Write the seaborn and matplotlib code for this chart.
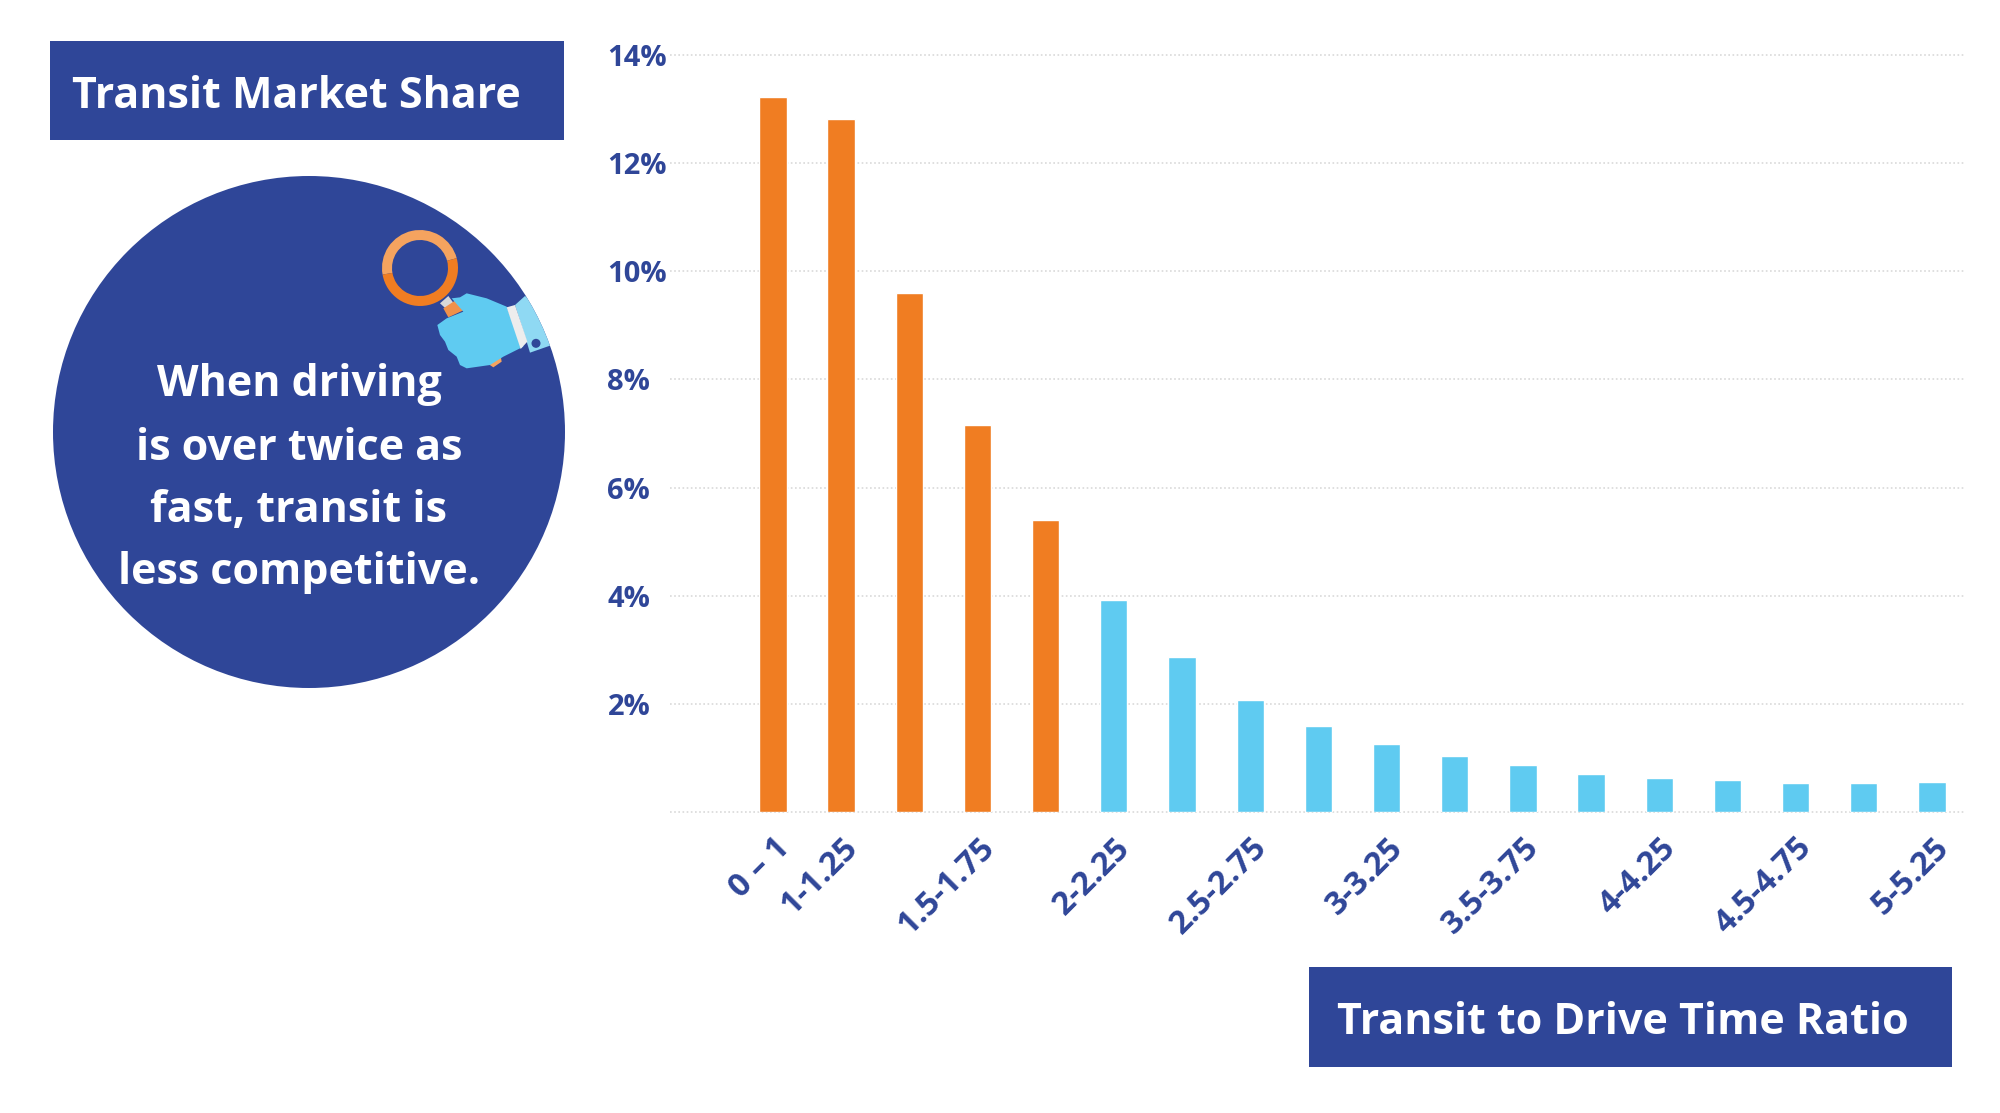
import numpy as np
import pandas as pd
import matplotlib.pyplot as plt
import seaborn as sns
from matplotlib.patches import Circle, Rectangle, Polygon, Wedge

# data
ratio_bins = ['0-1', '1-1.25', '1.25-1.5', '1.5-1.75', '1.75-2', '2-2.25', '2.25-2.5', '2.5-2.75', '2.75-3',
              '3-3.25', '3.25-3.5', '3.5-3.75', '3.75-4', '4-4.25', '4.25-4.5', '4.5-4.75', '4.75-5', '5-5.25']
market_share = [13.22, 12.82, 9.6, 7.16, 5.4, 3.92, 2.87, 2.08, 1.59, 1.26, 1.03, 0.86, 0.7, 0.63, 0.59, 0.54, 0.54, 0.56]
competitive = ['yes'] * 5 + ['no'] * 13
shown_bins = ['0-1', '1-1.25', '1.5-1.75', '2-2.25', '2.5-2.75', '3-3.25', '3.5-3.75', '4-4.25', '4.5-4.75', '5-5.25']
shown_labels = ['0 – 1', '1-1.25', '1.5-1.75', '2-2.25', '2.5-2.75', '3-3.25', '3.5-3.75', '4-4.25', '4.5-4.75', '5-5.25']
y_ticks = [0, 2, 4, 6, 8, 10, 12, 14]
y_labels = ['', '2%', '4%', '6%', '8%', '10%', '12%', '14%']

NAVY = '#2F4698'
ORANGE = '#F07D22'
LIGHT_ORANGE = '#F5A35F'
SKY = '#5FCBF1'
FONT = 'Open Sans'

sns.set_style('white')
plt.rcParams['font.family'] = [FONT, 'DejaVu Sans']

df = pd.DataFrame({'ratio': ratio_bins, 'share': market_share, 'competitive': competitive})

fig = plt.figure(figsize=(20, 11.13), dpi=100, facecolor='white')

# main chart, placed by pixel position
ax = fig.add_axes([670 / 2000, 1 - 812 / 1113, (1964 - 670) / 2000, 757 / 1113])
sns.barplot(data=df, x='ratio', y='share', hue='competitive', order=ratio_bins,
            palette={'yes': ORANGE, 'no': SKY}, dodge=False, width=0.4, saturation=1, legend=False, ax=ax)
ax.set_xlim(-1.51, 17.47)
ax.set_ylim(0, 14)
ax.set_xlabel('')
ax.set_ylabel('')
sns.despine(ax=ax, left=True, bottom=True)
ax.set_axisbelow(True)
ax.grid(axis='y', color='#d9d9d9', linestyle=(0, (1, 1.5)), linewidth=1.2, clip_on=False)
ax.grid(axis='x', visible=False)

ax.set_yticks(y_ticks)
ax.set_yticklabels(y_labels, ha='left', color=NAVY, fontsize=21, fontweight='bold')
ax.tick_params(axis='y', length=0, pad=45)

ax.set_xticks([ratio_bins.index(b) for b in shown_bins])
ax.set_xticklabels(shown_labels, rotation=45, ha='right', va='top', rotation_mode='anchor',
                   color=NAVY, fontsize=23.5, fontweight='bold')
ax.tick_params(axis='x', length=0, pad=14)

# overlay in pixel coordinates for the boxes and the circle
ov = fig.add_axes([0, 0, 1, 1], zorder=5)
ov.set_xlim(0, 2000)
ov.set_ylim(1113, 0)
ov.axis('off')

ov.add_patch(Rectangle((50, 41), 514, 99, color=NAVY, lw=0))
ov.text(72, 97, 'Transit Market Share', color='white', fontsize=31, fontweight='bold', ha='left', va='center')

ov.add_patch(Rectangle((1309, 967), 643, 100, color=NAVY, lw=0))
ov.text(1337, 1022, 'Transit to Drive Time Ratio', color='white', fontsize=31, fontweight='bold', ha='left', va='center')

disc = Circle((309, 432), 256, color=NAVY, lw=0)
ov.add_patch(disc)

for y, line in zip([384, 448, 510, 573], ['When driving', 'is over twice as', 'fast, transit is', 'less competitive.']):
    ov.text(299, y, line, color='white', fontsize=31, fontweight='bold', ha='center', va='center')


def crop(points):
    return [(360 + px / 3, 210 + py / 3) for px, py in points]


ov.add_patch(Wedge((420, 268), 38, 170, 345, width=10, color=LIGHT_ORANGE, lw=0))
ov.add_patch(Wedge((420, 268), 38, 345, 530, width=10, color=ORANGE, lw=0))
ov.add_patch(Polygon(crop([(240, 280), (265, 258), (285, 285), (262, 300)]), color='#d8d8d8', lw=0))
ov.add_patch(Polygon(crop([(250, 295), (285, 272), (312, 300), (265, 322)]), color='#F0914A', lw=0))
ov.add_patch(Polygon(crop([(385, 462), (422, 438), (425, 455), (400, 472)]), color=LIGHT_ORANGE, lw=0))
ov.add_patch(Polygon(crop([(300, 262), (320, 250), (380, 265), (440, 290), (470, 370), (490, 410), (430, 440),
                           (390, 465), (320, 475), (300, 465), (290, 440), (265, 420), (255, 395), (240, 375),
                           (232, 345), (260, 325), (310, 305), (275, 265)]), color=SKY, lw=0))
sleeve = Polygon(crop([(465, 285), (495, 258), (530, 285), (590, 400), (510, 428), (500, 395)]), color='#8FD9F3', lw=0)
ov.add_patch(sleeve)
sleeve.set_clip_path(disc)
ov.add_patch(Polygon(crop([(440, 292), (465, 285), (502, 395), (482, 417)]), color='#EDEDED', lw=0))
ov.add_patch(Circle((360 + 528 / 3, 210 + 400 / 3), 4.5, color=NAVY, lw=0))

fig.savefig('out.png', dpi=100)
